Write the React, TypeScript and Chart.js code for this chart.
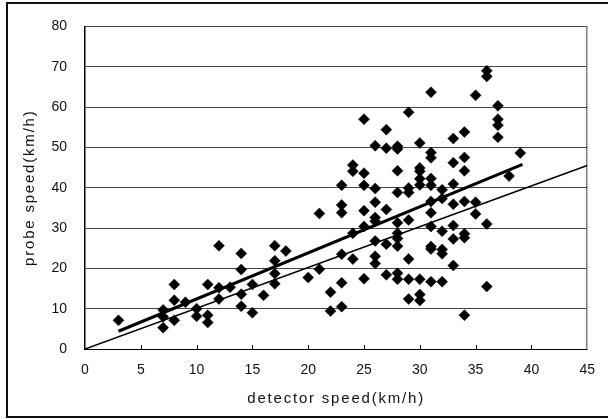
import React, { useEffect, useRef } from "react";
import { Chart, registerables } from "chart.js";

Chart.register(...registerables);

// Scatter points: detector speed (x) vs probe speed (y), km/h
const detectorSpeed: number[] = [
  3,
  7, 7, 7,
  8, 8, 8,
  9,
  10, 10,
  11, 11, 11,
  12, 12, 12,
  13,
  14, 14, 14, 14,
  15, 15,
  16,
  17, 17, 17, 17,
  18,
  20,
  21, 21,
  22, 22,
  23, 23, 23, 23, 23, 23,
  24, 24, 24, 24,
  25, 25, 25, 25, 25, 25,
  26, 26, 26, 26, 26, 26, 26, 26,
  27, 27, 27, 27, 27,
  28, 28, 28, 28, 28, 28, 28, 28, 28, 28,
  29, 29, 29, 29, 29, 29, 29,
  30, 30, 30, 30, 30, 30, 30, 30,
  31, 31, 31, 31, 31, 31, 31, 31, 31, 31, 31,
  32, 32, 32, 32, 32, 32,
  33, 33, 33, 33, 33, 33, 33,
  34, 34, 34, 34, 34, 34, 34,
  35, 35, 35,
  36, 36, 36, 36,
  37, 37, 37, 37,
  38,
  39,
];

const probeSpeed: number[] = [
  7.1,
  9.7, 8.0, 5.3,
  16, 12.1, 7.1,
  11.6,
  10, 8.1,
  16, 8.4, 6.6,
  25.6, 15.2, 12.4,
  15.3,
  23.7, 19.7, 13.6, 10.6,
  16, 9.0,
  13.3,
  25.6, 21.9, 18.7, 16.2,
  24.3,
  17.7,
  33.6, 19.8,
  14.1, 9.4,
  40.6, 35.7, 33.8, 23.5, 16.4, 10.5,
  45.6, 44.1, 28.7, 22.3,
  57.0, 43.6, 40.6, 34.3, 30.4, 17.4,
  50.4, 39.8, 36.4, 32.6, 31.7, 26.8, 23.0, 21.2,
  54.4, 49.8, 34.6, 26.0, 18.4,
  50.3, 49.6, 44.2, 38.8, 31.3, 28.7, 27.4, 25.5, 18.8, 17.3,
  58.7, 39.9, 38.8, 32.0, 22.3, 17.3, 12.4,
  51.1, 44.9, 44.1, 42.2, 40.7, 17.3, 13.5, 12.0,
  63.7, 48.7, 47.4, 42.3, 40.6, 36.6, 33.8, 30.4, 25.4, 24.8, 16.7,
  39.5, 37.3, 29.2, 24.7, 23.6, 16.7,
  52.2, 46.2, 40.9, 35.9, 30.6, 27.3, 20.7,
  53.8, 47.5, 44.2, 36.6, 28.6, 27.6, 8.4,
  62.9, 36.4, 33.5,
  69.0, 67.6, 31.0, 15.5,
  60.3, 57.0, 55.5, 52.5,
  42.9,
  48.6,
];

// Fitted regression line (thick) and reference line (thin)
const fitLineX: number[] = [3, 39.2];
const fitLineY: number[] = [4.4, 45.8];
const refLineX: number[] = [0, 45];
const refLineY: number[] = [0, 45.5];

const xTicks: number[] = [0, 5, 10, 15, 20, 25, 30, 35, 40, 45];
const yTicks: number[] = [0, 10, 20, 30, 40, 50, 60, 70, 80];

const xTitle = "detector speed(km/h)";
const yTitle = "probe speed(km/h)";

const FONT = "'Liberation Sans', Arial, sans-serif";

const framePlugin = {
  id: "frameAndMarks",
  afterDraw(chart: any) {
    const ctx = chart.ctx;
    const xs = chart.scales.x;
    const area = chart.chartArea;
    ctx.save();
    ctx.strokeStyle = "#000";
    ctx.lineWidth = 1;
    xTicks.forEach((v) => {
      if (v === 0 || v === 45) return;
      const px = Math.round(xs.getPixelForValue(v)) + 0.5;
      ctx.beginPath();
      ctx.moveTo(px, area.bottom);
      ctx.lineTo(px, area.bottom - 4);
      ctx.stroke();
    });
    ctx.lineWidth = 2;
    ctx.strokeStyle = "#111";
    ctx.strokeRect(7, 3, 612, 414);
    ctx.restore();
  },
};

function spacedTitle(s: any) {
  if (s._spacedPatched) return;
  s._spacedPatched = true;
  const orig = s.drawTitle;
  s.drawTitle = function (...args: any[]) {
    const ctx = this.ctx;
    const prev = ctx.letterSpacing;
    ctx.letterSpacing = "1.8px";
    orig.apply(this, args);
    ctx.letterSpacing = prev || "0px";
  };
}

export default function App() {
  const ref = useRef<HTMLCanvasElement | null>(null);

  useEffect(() => {
    document.body.style.margin = "0";
    const canvas = ref.current;
    if (!canvas) return;

    const points = detectorSpeed.map((x, i) => ({ x, y: probeSpeed[i] }));
    const fit = fitLineX.map((x, i) => ({ x, y: fitLineY[i] }));
    const refl = refLineX.map((x, i) => ({ x, y: refLineY[i] }));

    const chart = new Chart(canvas, {
      type: "scatter",
      data: {
        datasets: [
          {
            label: "fit",
            data: fit,
            showLine: true,
            borderColor: "#000",
            borderWidth: 3,
            pointRadius: 0,
            order: 2,
          },
          {
            label: "ref",
            data: refl,
            showLine: true,
            borderColor: "#000",
            borderWidth: 1.6,
            pointRadius: 0,
            order: 3,
          },
          {
            label: "points",
            data: points,
            pointStyle: "rectRot",
            pointRadius: 5.5,
            backgroundColor: "#000",
            borderColor: "#000",
            borderWidth: 0.5,
            order: 1,
          },
        ],
      },
      options: {
        animation: false,
        responsive: false,
        maintainAspectRatio: false,
        layout: { padding: { top: 20, right: 11, left: 0, bottom: 0 } },
        plugins: {
          legend: { display: false },
          tooltip: { enabled: false },
        },
        scales: {
          x: {
            type: "linear",
            min: 0,
            max: 45,
            afterFit: (s: any) => {
              s.height = 70;
              spacedTitle(s);
            },
            afterBuildTicks: (s: any) => {
              s.ticks = xTicks.map((v) => ({ value: v }));
            },
            ticks: {
              padding: 13,
              color: "#111",
              font: { family: FONT, size: 14 },
              maxRotation: 0,
              autoSkip: false,
            },
            grid: {
              drawTicks: false,
              color: (c: any) => (c.tick && c.tick.value === 45 ? "#000" : "rgba(0,0,0,0)"),
              lineWidth: 1.5,
            },
            border: { display: true, color: "#000", width: 1, dash: [1, 1] },
            title: {
              display: true,
              text: xTitle,
              color: "#111",
              font: { family: FONT, size: 15 },
              padding: { top: 0, bottom: 11 },
            },
          },
          y: {
            type: "linear",
            min: 0,
            max: 80,
            afterFit: (s: any) => {
              s.width = 85;
              spacedTitle(s);
            },
            afterBuildTicks: (s: any) => {
              s.ticks = yTicks.map((v) => ({ value: v }));
            },
            ticks: {
              padding: 18,
              color: "#111",
              font: { family: FONT, size: 14 },
              autoSkip: false,
            },
            grid: {
              drawTicks: false,
              color: (c: any) => (c.tick && c.tick.value === 0 ? "rgba(0,0,0,0)" : "#444"),
              lineWidth: 1,
              borderDash: [1, 2],
            },
            border: { display: true, color: "#000", width: 1.5 },
            title: {
              display: true,
              text: yTitle,
              color: "#111",
              font: { family: FONT, size: 15 },
              padding: { top: 21, bottom: 0 },
            },
          },
        },
      } as any,
      plugins: [framePlugin],
    });

    return () => chart.destroy();
  }, []);

  return (
    <div style={{ width: 608, height: 419, position: "relative", background: "#fff" }}>
      <canvas ref={ref} width={608} height={419} style={{ display: "block" }} />
    </div>
  );
}
